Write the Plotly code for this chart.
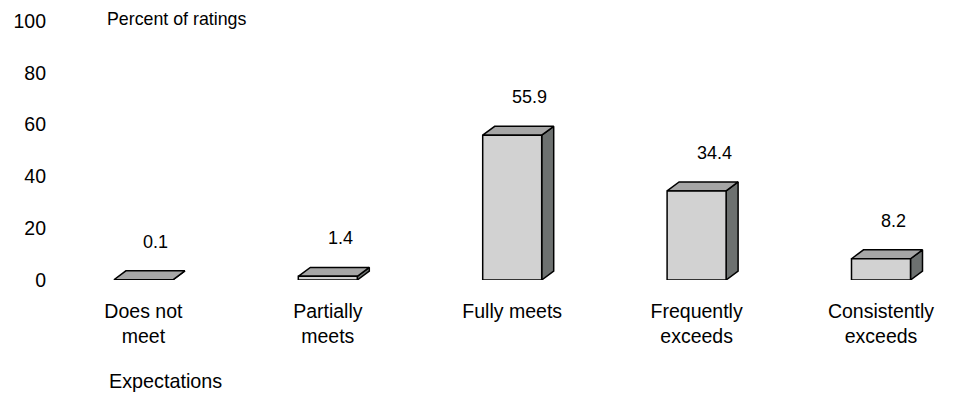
import plotly.graph_objects as go

categories = ["Does not<br>meet", "Partially<br>meets", "Fully meets", "Frequently<br>exceeds", "Consistently<br>exceeds"]
values = [0.1, 1.4, 55.9, 34.4, 8.2]
value_labels = ["0.1", "1.4", "55.9", "34.4", "8.2"]
y_ticks = [0, 20, 40, 60, 80, 100]

FONT = "Liberation Sans, Arial, Helvetica, sans-serif"
FRONT = "#d2d2d2"
TOP = "#a6a6a6"
SIDE = "#6d7170"

W = 957
H = 395
ML, MR, MT, MB = 47, 10, 19, 115
plot_w = W - ML - MR
plot_h = H - MT - MB
px_per_cat = 184.4
x0 = -(143.4 - ML) / px_per_cat
x1 = x0 + plot_w / px_per_cat
y_per_px = 100.0 / plot_h

bw = 0.32          # bar width (category units)
dx = 12 / px_per_cat   # depth offset in x
dy = 9 * y_per_px      # depth offset in y

fig = go.Figure()
line = dict(color="black", width=1.5)
for i, v in enumerate(values):
    l, r = i - bw / 2, i + bw / 2
    # side face
    fig.add_trace(go.Scatter(
        x=[r, r + dx, r + dx, r, r], y=[0, dy, v + dy, v, 0],
        mode="lines", fill="toself", fillcolor=SIDE, line=line,
        hoverinfo="skip", showlegend=False))
    # top face
    fig.add_trace(go.Scatter(
        x=[l, r, r + dx, l + dx, l], y=[v, v, v + dy, v + dy, v],
        mode="lines", fill="toself", fillcolor=TOP, line=line,
        hoverinfo="skip", showlegend=False))
    # front face
    fig.add_trace(go.Scatter(
        x=[l, r, r, l, l], y=[0, 0, v, v, 0],
        mode="lines", fill="toself", fillcolor=FRONT, line=line,
        hoverinfo="skip", showlegend=False))

for i, (v, t) in enumerate(zip(values, value_labels)):
    fig.add_annotation(x=i, y=v, xref="x", yref="y", text=t, showarrow=False,
                       xanchor="left", yanchor="middle", yshift=38, xshift=-2,
                       font=dict(family=FONT, size=18, color="black"))

fig.add_annotation(x=(105 - ML) / plot_w, y=(plot_h + MT - 17) / plot_h,
                   xref="paper", yref="paper", text="Percent of ratings",
                   showarrow=False, xanchor="left", yanchor="middle",
                   font=dict(family=FONT, size=17.8, color="black"))
fig.add_annotation(x=(165 - ML) / plot_w, y=(plot_h + MT - 382) / plot_h,
                   xref="paper", yref="paper", text="Expectations",
                   showarrow=False, xanchor="center", yanchor="middle",
                   font=dict(family=FONT, size=19.8, color="black"))

fig.update_layout(
    width=W, height=H,
    margin=dict(l=ML, r=MR, t=MT, b=MB),
    paper_bgcolor="white", plot_bgcolor="white",
    xaxis=dict(range=[x0, x1], tickvals=list(range(len(categories))),
               ticktext=categories, showgrid=False, zeroline=False,
               showline=False, ticks="", ticklabelstandoff=17,
               tickfont=dict(family=FONT, size=19.5, color="black"),
               fixedrange=True),
    yaxis=dict(range=[0, 100], tickvals=y_ticks, showgrid=False,
               zeroline=False, showline=False, ticks="",
               tickfont=dict(family=FONT, size=19.5, color="black"),
               fixedrange=True),
)

fig.write_html("out.html")
